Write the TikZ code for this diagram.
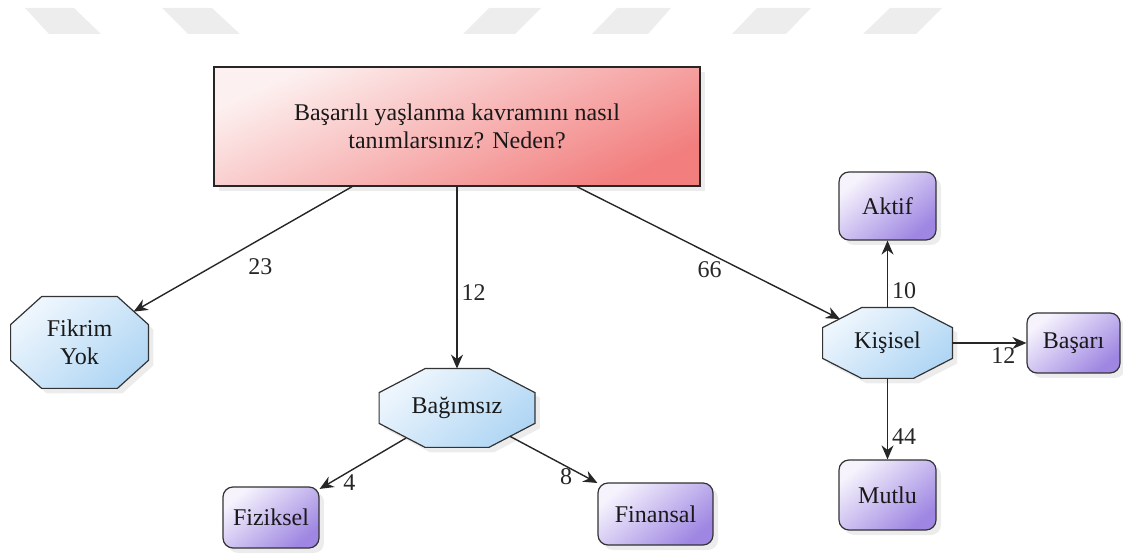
\documentclass[tikz,border=0pt]{standalone}
\usepackage{fontspec}
\setmainfont{Liberation Serif}
\usetikzlibrary{arrows.meta,shadows,backgrounds}

\definecolor{qlight}{RGB}{253,240,240}
\definecolor{qdark}{RGB}{242,126,126}
\definecolor{olight}{RGB}{238,246,253}
\definecolor{odark}{RGB}{176,214,244}
\definecolor{rlight}{RGB}{246,243,253}
\definecolor{rdark}{RGB}{158,134,226}
\definecolor{bandgray}{RGB}{237,237,237}

% octagon round a node: node, horizontal cut, vertical cut
\newcommand\octagon[3]{%
  \path[octafill] ([xshift=#2]#1.north west) -- ([xshift=-#2]#1.north east)
    -- ([yshift=-#3]#1.north east) -- ([yshift=#3]#1.south east)
    -- ([xshift=-#2]#1.south east) -- ([xshift=#2]#1.south west)
    -- ([yshift=#3]#1.south west) -- ([yshift=-#3]#1.north west) -- cycle;}

\tikzset{
  soft shadow/.style={drop shadow={opacity=.15,shadow xshift=2.5pt,shadow yshift=-2.5pt}},
  question/.style={rectangle,draw=black!85,line width=.7pt,top color=qlight,bottom color=qdark,
    shading angle=25,align=center,minimum width=243pt,minimum height=59.5pt,soft shadow},
  octa/.style={rectangle,align=center,inner sep=1pt},
  octafill/.style={draw=black!80,line width=.6pt,top color=olight,bottom color=odark,
    shading angle=40,soft shadow},
  leaf/.style={rectangle,rounded corners=5pt,draw=black!80,line width=.6pt,top color=rlight,
    bottom color=rdark,shading angle=40,minimum width=48.5pt,minimum height=34pt,soft shadow},
  link/.style={draw=black!85,line width=.7pt,-{Stealth[length=7pt,width=6pt]}},
  lbl/.style={text=black!85,inner sep=2pt},
}

\begin{document}
\begin{tikzpicture}[x=0.5pt,y=-0.5pt,font=\fontsize{12}{14}\selectfont,text=black!90]
  \useasboundingbox (0,0) rectangle (1123,560);

  % grey bands along the top
  \foreach \a/\b/\c/\d in {25/74/101/49,162/212/240/188,489/541/515/463,
                          617/671/648/592,757/811/786/732,890/942/916/863}
    \fill[bandgray] (\a,8) -- (\b,8) -- (\c,34) -- (\d,34) -- cycle;

  % question
  \node[question] (q) at (457,126.5) {Başarılı yaşlanma kavramını nasıl\\tanımlarsınız? Neden?};
  \coordinate (qa) at ([xshift=-52.5pt]q.south);
  \coordinate (qc) at ([xshift=60pt]q.south);

  % answers
  \node[octa,minimum width=68.5pt,minimum height=45.5pt] (fikrim) at (79.5,342.5) {Fikrim\\Yok};
  \node[octa,minimum width=77.5pt,minimum height=39pt] (bagimsiz) at (457,408) {Bağımsız};
  \node[octa,minimum width=64.5pt,minimum height=35pt] (kisisel) at (887.5,343) {Kişisel};
  \begin{pgfonlayer}{background}
    \octagon{fikrim}{15.5pt}{14pt}
    \octagon{bagimsiz}{23pt}{12pt}
    \octagon{kisisel}{19.5pt}{10pt}
  \end{pgfonlayer}

  \node[leaf,minimum width=48pt,minimum height=30.5pt] (fiziksel) at (271,517.5) {Fiziksel};
  \node[leaf,minimum width=57.5pt,minimum height=31pt] (finansal) at (655.5,514) {Finansal};
  \node[leaf] (aktif) at (887.5,206) {Aktif};
  \node[leaf,minimum width=46.5pt,minimum height=30pt] (basari) at (1073.5,343) {Başarı};
  \node[leaf,minimum height=35pt] (mutlu) at (887.5,495) {Mutlu};

  % connectors
  \draw[link,shorten >=-8.5pt] (qa) -- (fikrim) node[lbl,pos=.45,yshift=-14pt] {23};
  \draw[link] (q) -- (bagimsiz) node[lbl,pos=.58,anchor=west] {12};
  \draw[link,shorten >=-9.7pt] (qc) -- (kisisel) node[lbl,pos=.54,yshift=-8pt] {66};

  \draw[link,shorten <=-9.3pt] (bagimsiz) -- (fiziksel) node[lbl,pos=.70,anchor=west,yshift=-3pt,inner sep=1pt] {4};
  \draw[link,shorten <=-11.8pt] (bagimsiz) -- (finansal) node[lbl,pos=.53,anchor=north,inner sep=1pt] {8};

  \draw[link] (kisisel) -- (aktif) node[lbl,pos=.26,anchor=west] {10};
  \draw[link] (kisisel) -- (basari) node[lbl,pos=.69,below] {12};
  \draw[link] (kisisel) -- (mutlu) node[lbl,pos=.72,anchor=west] {44};
\end{tikzpicture}
\end{document}
